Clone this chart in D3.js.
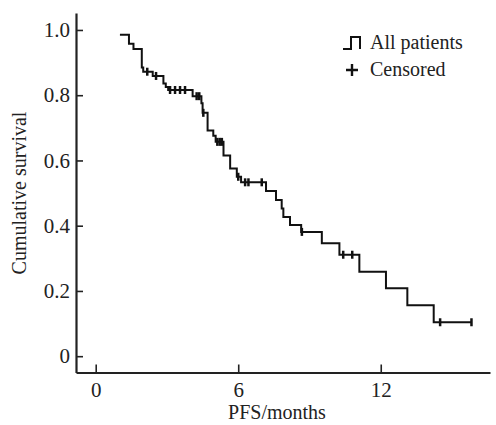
<!DOCTYPE html>
<html>
<head>
<meta charset="utf-8">
<script src="https://cdn.jsdelivr.net/npm/d3@7"></script>
<style>
	body { margin: 0; background: #fff; }
	text { font-family: "Liberation Serif", "Times New Roman", Times, serif !important; }
</style>
</head>
<body>
<div class="km-plot"></div>
<script>
// survival steps (time in months, survival after the drop)
const stepTimes = [1.02, 1.40, 1.59, 1.94, 2.00, 2.40, 2.85, 2.95, 3.05, 4.08, 4.45, 4.50, 4.71, 4.95, 5.05, 5.38, 5.66, 5.94, 6.12, 7.17, 7.59, 7.83, 7.90, 8.18, 8.65, 9.52, 10.26, 11.10, 12.22, 13.12, 14.23];
const stepSurv = [0.985, 0.958, 0.942, 0.885, 0.872, 0.859, 0.836, 0.825, 0.816, 0.797, 0.775, 0.746, 0.692, 0.676, 0.657, 0.615, 0.575, 0.55, 0.533, 0.506, 0.479, 0.453, 0.427, 0.402, 0.381, 0.346, 0.311, 0.259, 0.208, 0.156, 0.104];
const censorTimes = [2.17, 2.54, 3.13, 3.34, 3.55, 3.76, 4.25, 4.36, 4.53, 5.12, 5.22, 5.31, 6.00, 6.29, 6.43, 6.99, 8.68, 10.42, 10.80, 14.50, 15.82];
const lastTime = 15.82;
const xTicks = [0, 6, 12];
const yTicks = [0, 0.2, 0.4, 0.6, 0.8, 1.0];

const width = 496;
const height = 425;

const svg = d3.select('.km-plot')
	.append('svg')
	.attr('width', width)
	.attr('height', height);

const x = d3.scaleLinear().domain([-0.83, 16.6]).range([76, 490]);
const y = d3.scaleLinear().domain([-0.05, 1.052]).range([372.5, 13]);

function survAt(t) {
	let v = stepSurv[0];
	for (let i = 0; i < stepTimes.length; i++) {
		if (stepTimes[i] <= t) v = stepSurv[i];
	}
	return v;
}

// axes
svg.append('g')
	.attr('transform', 'translate(76,0)')
	.call(d3.axisLeft(y)
		.tickValues(yTicks)
		.tickSize(-7)
		.tickSizeOuter(0)
		.tickPadding(6)
		.tickFormat(d => d === 0 ? '0' : d3.format('.1f')(d)));

svg.append('g')
	.attr('transform', 'translate(0,372.5)')
	.call(d3.axisBottom(x)
		.tickValues(xTicks)
		.tickSize(-8)
		.tickSizeOuter(0)
		.tickPadding(10));

svg.selectAll('g').attr('font-family', null).attr('font-size', 21);
svg.selectAll('.domain').attr('stroke', '#222').attr('stroke-width', 2.2);
svg.selectAll('.tick line').attr('stroke', '#222').attr('stroke-width', 1.6);
svg.selectAll('.tick text').attr('fill', '#222');

// the curve
const pts = stepTimes.map((t, i) => [t, stepSurv[i]]);
pts.push([lastTime, stepSurv[stepSurv.length - 1]]);

const line = d3.line()
	.x(d => x(d[0]))
	.y(d => y(d[1]))
	.curve(d3.curveStepAfter);

svg.append('path')
	.datum(pts)
	.attr('d', line)
	.attr('fill', 'none')
	.attr('stroke', '#111')
	.attr('stroke-width', 2);

svg.selectAll('.censor')
	.data(censorTimes)
	.enter()
	.append('line')
	.attr('class', 'censor')
	.attr('x1', d => x(d))
	.attr('x2', d => x(d))
	.attr('y1', d => y(survAt(d)) - 4)
	.attr('y2', d => y(survAt(d)) + 4)
	.attr('stroke', '#111')
	.attr('stroke-width', 2.5);

// axis titles
svg.append('text')
	.attr('transform', 'translate(26,193) rotate(-90)')
	.attr('text-anchor', 'middle')
	.attr('font-size', 20)
	.attr('fill', '#222')
	.text('Cumulative survival');

svg.append('text')
	.attr('x', 277)
	.attr('y', 419)
	.attr('text-anchor', 'middle')
	.attr('font-size', 20)
	.attr('fill', '#222')
	.text('PFS/months');

// legend
const legend = svg.append('g');
legend.append('path')
	.attr('d', 'M343,49H351V37H360V49')
	.attr('fill', 'none')
	.attr('stroke', '#111')
	.attr('stroke-width', 2);
legend.append('text')
	.attr('x', 370)
	.attr('y', 49)
	.attr('font-size', 20)
	.attr('fill', '#222')
	.text('All patients');
legend.append('path')
	.attr('d', 'M346,70H358M352,64V76')
	.attr('stroke', '#111')
	.attr('stroke-width', 2.4);
legend.append('text')
	.attr('x', 370)
	.attr('y', 76)
	.attr('font-size', 20)
	.attr('fill', '#222')
	.text('Censored');
</script>
</body>
</html>
